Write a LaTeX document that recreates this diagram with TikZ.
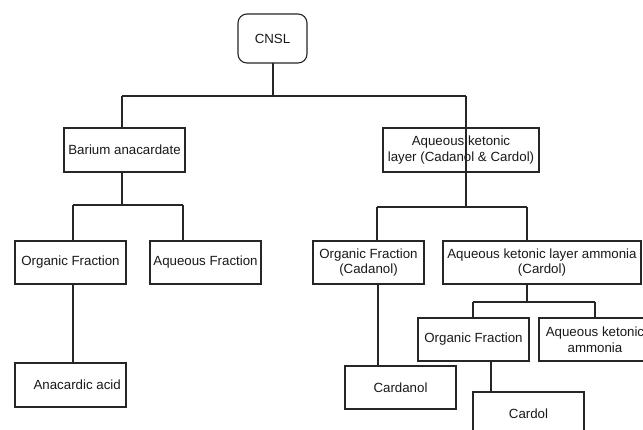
\documentclass[tikz,border=0pt]{standalone}
\usepackage{fontspec}
\setmainfont{Liberation Sans}
\begin{document}
\begin{tikzpicture}[x=1pt,y=-1pt,
  box/.style={draw=black!85, line width=1.1pt, inner sep=0pt, outer sep=0pt,
    anchor=north west, minimum width=111, minimum height=43, align=center,
    font=\fontsize{13.3}{15.5}\selectfont, text=black!90},
  link/.style={draw=black!85, line width=1.1pt}]
\useasboundingbox (0,0) rectangle (643,430);
\clip (0,0) rectangle (643,430);
\fill[white] (0,0) rectangle (643,430);
% nodes
\node[box, rounded corners=9pt, minimum width=69, minimum height=49] (cnsl) at (238,14) {CNSL};
\node[box, minimum width=121, minimum height=44] (bar) at (64,128) {Barium anacardate};
\node[box, minimum width=156, minimum height=44] (akl) at (383,128) {Aqueous ketonic\\layer (Cadanol \& Cardol)};
\node[box] (of1) at (15,241) {Organic Fraction};
\node[box] (af1) at (150,241) {Aqueous Fraction};
\node[box, minimum width=111, minimum height=44] (ana) at (15,363) {};
\node[anchor=east, inner sep=0pt, font=\fontsize{13.3}{15.5}\selectfont, text=black!90] (anat) at ([xshift=-5pt]ana.east) {Anacardic acid};
\node[box] (ofc) at (313,241) {Organic Fraction\\(Cadanol)};
\node[box, minimum width=198] (akla) at (443,241) {Aqueous ketonic layer ammonia\\(Cardol)};
\node[box] (card) at (345,366) {Cardanol};
\node[box] (of3) at (418,318) {Organic Fraction};
\node[box, minimum width=112] (akm) at (539,318) {Aqueous ketonic\\ammonia};
\node[box, minimum width=111] (cardol) at (473,392) {Cardol};
% coordinates
\coordinate (b1) at (273,96);
\coordinate (bl) at (122,96);
\coordinate (br) at (466,96);
\coordinate (brd) at (466,207);
\coordinate (b2) at (122,205);
\coordinate (b2l) at (73,205);
\coordinate (b2r) at (183,205);
\coordinate (b3l) at (377,207);
\coordinate (b3r) at (527,207);
\coordinate (b4) at (527,302);
\coordinate (b4l) at (473,302);
\coordinate (b4r) at (595,302);
\coordinate (o1) at (73,284);
\coordinate (o2) at (378,284);
\coordinate (o3) at (491,361);
% connectors
\draw[link] (b1 |- cnsl.south) -- (b1);
\draw[link] (bl) -- (br);
\draw[link] (bl) -- (bl |- bar.north);
\draw[link] (br) -- (brd);
\draw[link] (b2 |- bar.south) -- (b2);
\draw[link] (b2l) -- (b2r);
\draw[link] (b2l) -- (b2l |- of1.north);
\draw[link] (b2r) -- (b2r |- af1.north);
\draw[link] (o1 |- of1.south) -- (o1 |- ana.north);
\draw[link] (b3l) -- (b3r);
\draw[link] (b3l) -- (b3l |- ofc.north);
\draw[link] (b3r) -- (b3r |- akla.north);
\draw[link] (o2 |- ofc.south) -- (o2 |- card.north);
\draw[link] (b3r |- akla.south) -- (b4);
\draw[link] (b4l) -- (b4r);
\draw[link] (b4l) -- (b4l |- of3.north);
\draw[link] (b4r) -- (b4r |- akm.north);
\draw[link] (o3 |- of3.south) -- (o3 |- cardol.north);
\end{tikzpicture}
\end{document}
